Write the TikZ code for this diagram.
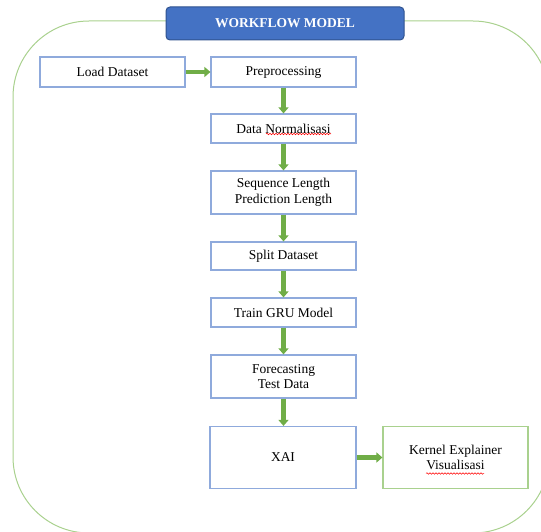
\documentclass[tikz,border=0pt]{standalone}
\usepackage{fontspec}
\setmainfont{Liberation Serif}
\usetikzlibrary{arrows.meta,decorations.pathmorphing}
\definecolor{boxblue}{HTML}{8FAADC}
\definecolor{boxgreen}{HTML}{A9D18E}
\definecolor{arrgreen}{HTML}{70AD47}
\definecolor{titlefill}{HTML}{4472C4}
\definecolor{titleline}{HTML}{2F528F}
\begin{document}
\begin{tikzpicture}[x=1pt,y=-1pt,
  stepbox/.style={draw=boxblue, line width=1.2pt, fill=white, minimum width=145pt,
    inner sep=0pt, align=center, font=\fontsize{13.5}{15.5}\selectfont},
  greenbox/.style={stepbox, draw=boxgreen},
  titlebox/.style={draw=titleline, line width=1pt, fill=titlefill, rounded corners=4pt,
    minimum width=238pt, minimum height=33pt, text=white,
    font=\fontsize{13.5}{15}\selectfont\bfseries},
  arr/.style={draw=arrgreen, line width=4.5pt, -{Triangle[width=10pt,length=6pt]}},
  spell/.style={draw=red, line width=0.5pt, decorate,
    decoration={snake, amplitude=0.8pt, segment length=3pt}}]
\useasboundingbox (0,0) rectangle (541,532);
\begin{scope}
\clip (0,0) rectangle (541,532);
\draw[boxgreen, line width=1pt, rounded corners=76pt] (13,21) rectangle (549,533);
\end{scope}
\node[titlebox] (title) at (285,23.5) {WORKFLOW MODEL};
\node[stepbox, minimum height=30pt] (load) at (112.5,72) {Load Dataset};
\node[stepbox, minimum height=30pt] (pre) at (283.5,72) {Preprocessing};
\node[stepbox, minimum height=29pt] (norm) at (283.5,128.5) {Data Normalisasi};
\node[stepbox, minimum height=43pt] (seq) at (283.5,192.5) {Sequence Length\\Prediction Length};
\node[stepbox, minimum height=28pt] (split) at (283.5,256) {Split Dataset};
\node[stepbox, minimum height=29pt] (train) at (283.5,312.5) {Train GRU Model};
\node[stepbox, minimum height=43pt] (fore) at (283.5,376.5) {Forecasting\\Test Data};
\node[stepbox, minimum height=62pt, minimum width=146pt] (xai) at (283,457.5) {XAI};
\node[greenbox, minimum height=62pt] (kern) at (455.5,457.5) {Kernel Explainer\\Visualisasi};
\draw[arr] (load) -- (pre);
\draw[arr] (pre) -- (norm);
\draw[arr] (norm) -- (seq);
\draw[arr] (seq) -- (split);
\draw[arr] (split) -- (train);
\draw[arr] (train) -- (fore);
\draw[arr] (fore.south) -- (xai.north -| fore.south);
\draw[arr] (xai) -- (kern);
\draw[spell] (266,134) -- (331,134);
\draw[spell] (426,473.5) -- (484,473.5);
\end{tikzpicture}
\end{document}
